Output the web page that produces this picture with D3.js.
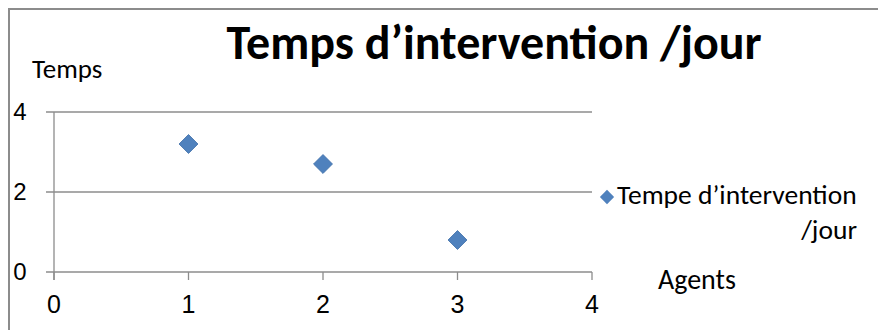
<!DOCTYPE html>
<html><head><meta charset="utf-8">
<script src="https://cdn.jsdelivr.net/npm/d3@7"></script>
<style>body{margin:0;background:#fff}svg{display:block}</style>
</head><body>
<script>
const agents = [1, 2, 3];
const temps = [3.2, 2.7, 0.8];
const xTicks = [0, 1, 2, 3, 4];
const yTicks = [0, 2, 4];
const title = "Temps d\u2019intervention /jour";
const legendLines = ["Tempe d\u2019intervention", "/jour"];
const yTitle = "Temps";
const xTitle = "Agents";

const W = 878, H = 330;
const svg = d3.select("body").append("svg").attr("width", W).attr("height", H);
svg.append("rect").attr("width", W).attr("height", H).attr("fill", "#fff");
// chart frame
svg.append("path").attr("d", `M9,${H+5}V9H${W+5}`).attr("fill", "none").attr("stroke", "#8c8c8c").attr("stroke-width", 2);

const x = d3.scaleLinear().domain([0, 4]).range([54, 592]);
const y = d3.scaleLinear().domain([0, 4]).range([272, 112]);
const grid = "#8c8c8c";

// gridlines
svg.append("g").selectAll("line").data(yTicks).join("line")
  .attr("x1", 46).attr("x2", x(4)).attr("y1", d => y(d)).attr("y2", d => y(d))
  .attr("stroke", grid).attr("stroke-width", 1.3);
// y axis line
svg.append("line").attr("x1", x(0)).attr("x2", x(0)).attr("y1", y(4)).attr("y2", y(0) + 8)
  .attr("stroke", grid).attr("stroke-width", 1.3);
// x ticks
svg.append("g").selectAll("line").data(xTicks).join("line")
  .attr("x1", d => x(d)).attr("x2", d => x(d)).attr("y1", y(0)).attr("y2", y(0) + 8)
  .attr("stroke", grid).attr("stroke-width", 1.3);

const tickFont = "'Liberation Sans', Arial, sans-serif";
svg.append("g").selectAll("text").data(yTicks).join("text")
  .attr("x", 20).attr("y", d => y(d)).attr("dy", "0.35em").attr("text-anchor", "middle")
  .attr("font-family", tickFont).attr("font-size", 24).text(d => d);
svg.append("g").selectAll("text").data(xTicks).join("text")
  .attr("x", d => x(d)).attr("y", 304).attr("dy", "0.35em").attr("text-anchor", "middle")
  .attr("font-family", tickFont).attr("font-size", 25).text(d => d);

// points
const diamond = d3.symbol().type(d3.symbolDiamond2).size(230);
svg.append("g").selectAll("path").data(agents.map((a, i) => [a, temps[i]])).join("path")
  .attr("transform", d => `translate(${x(d[0])},${y(d[1])})`)
  .attr("d", diamond).attr("fill", "#4f81bd").attr("stroke", "#3f6fa8").attr("stroke-width", 0.8);

const cal = "Carlito, 'Open Sans', Lato, sans-serif";
svg.append("text").attr("x", 494).attr("y", 59).attr("text-anchor", "middle")
  .attr("font-family", cal).attr("font-weight", "bold").attr("font-size", 48).text(title);
svg.append("text").attr("x", 32).attr("y", 78)
  .attr("font-family", cal).attr("font-size", 27).text(yTitle);
svg.append("text").attr("x", 658).attr("y", 289)
  .attr("font-family", cal).attr("font-size", 28).text(xTitle);

// legend
svg.append("path").attr("transform", "translate(607,197)")
  .attr("d", d3.symbol().type(d3.symbolDiamond2).size(130)).attr("fill", "#4f81bd");
svg.append("text").attr("x", 617).attr("y", 204)
  .attr("font-family", cal).attr("font-size", 27.5).text(legendLines[0]);
svg.append("text").attr("x", 857).attr("y", 239).attr("text-anchor", "end")
  .attr("font-family", cal).attr("font-size", 27.5).text(legendLines[1]);
</script>
</body></html>
